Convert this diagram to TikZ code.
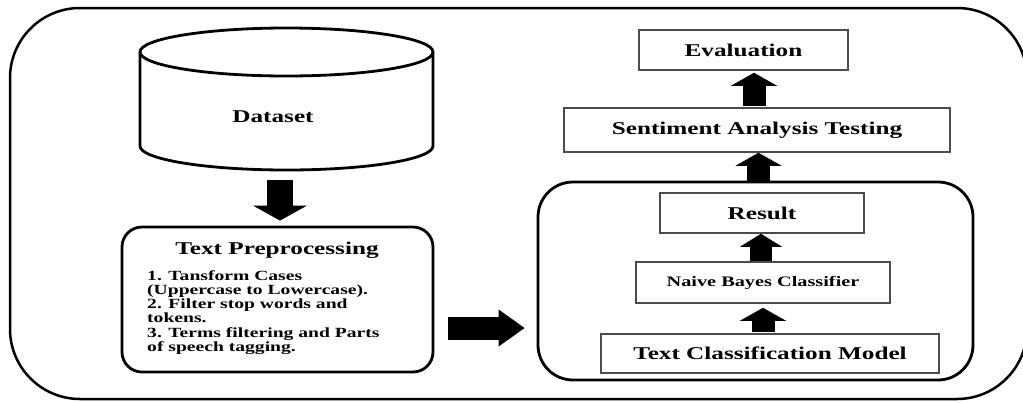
\documentclass[tikz,border=0pt]{standalone}
\usepackage{fontspec}
\setmainfont{Liberation Serif}[FakeStretch=1.4]
\usetikzlibrary{arrows.meta}

\begin{document}
\begin{tikzpicture}[x=1pt,y=-1pt,
    every node/.style={font=\bfseries\fontsize{18}{20}\selectfont, inner sep=0pt},
    box/.style={rectangle, draw=black!70, line width=1.5pt},
    roundbox/.style={rectangle, rounded corners=#1, draw, line width=2.8pt},
    roundbox/.default=20pt,
    blockarrow/.style={line width=23pt, -{Triangle[width=46pt,length=13pt,line width=0pt]}}
  ]
\useasboundingbox (0,0) rectangle (1023,402);
% outer frame
\draw[line width=2.5pt, rounded corners=70pt] (10,8) rectangle (1027,399);

% left column
\draw[line width=2.8pt] (140,52) -- (140,146) arc[start angle=180, end angle=0, x radius=146.5, y radius=24] -- (433,52);
\draw[line width=2.8pt] (286.5,52) ellipse [x radius=146.5, y radius=24];
\node (data) at (273,117) {Dataset};
\coordinate (databot) at (280,170);
\node[roundbox=20pt, minimum width=311pt, minimum height=145pt] (pre) at (277.5,299.5) {};
\node (pretitle) at (277,250) {Text Preprocessing};
\node[anchor=west, align=left, font=\bfseries\fontsize{14}{14.2}\selectfont] (prelist) at (147,312.5)
  {1. Tansform Cases\\(Uppercase to Lowercase).\\2. Filter stop words and\\tokens.\\3. Terms filtering and Parts\\of speech tagging.};

% right column
\node[roundbox=35pt, minimum width=435pt, minimum height=198pt] (model) at (755.5,281) {};
\node[box, minimum width=209pt, minimum height=40pt] (eval) at (743.5,50) {Evaluation};
\node[box, minimum width=386pt, minimum height=44pt] (sat) at (757,130) {Sentiment Analysis Testing};
\node[box, minimum width=204pt, minimum height=40pt] (result) at (762,213) {Result};
\node[box, minimum width=254pt, minimum height=41pt, font=\bfseries\fontsize{14.5}{16}\selectfont] (nbc) at (763,282.5) {Naive Bayes Classifier};
\node[box, minimum width=338pt, minimum height=39pt] (tcm) at (770,353.5) {Text Classification Model};

% arrows
\draw[blockarrow, line width=26pt, -{Triangle[width=54pt,length=15pt,line width=0pt]},
      shorten <=10pt, shorten >=5pt] (databot) -- (databot |- pre.north);
\draw[blockarrow, -{Triangle[width=37pt,length=26pt,line width=0pt]}, shorten <=14pt, shorten >=12pt]
  ([yshift=-28.5pt]pre.east) -- ([yshift=-28.5pt]pre.east -| model.west);
\draw[blockarrow, shorten >=2pt, shorten <=1pt] ([xshift=-3pt]sat.north) -- ([xshift=-3pt]sat.north |- eval.south);
\draw[blockarrow] ([xshift=3pt]model.north) -- ([xshift=3pt]model.north |- sat.south);
\draw[blockarrow, line width=22pt, -{Triangle[width=42pt,length=13pt,line width=0pt]}] ([xshift=-2pt]nbc.north) -- ([xshift=-2pt]nbc.north |- result.south);
\draw[blockarrow, shorten >=4pt, shorten <=1pt] (nbc.south |- tcm.north) -- (nbc.south);
\end{tikzpicture}
\end{document}
